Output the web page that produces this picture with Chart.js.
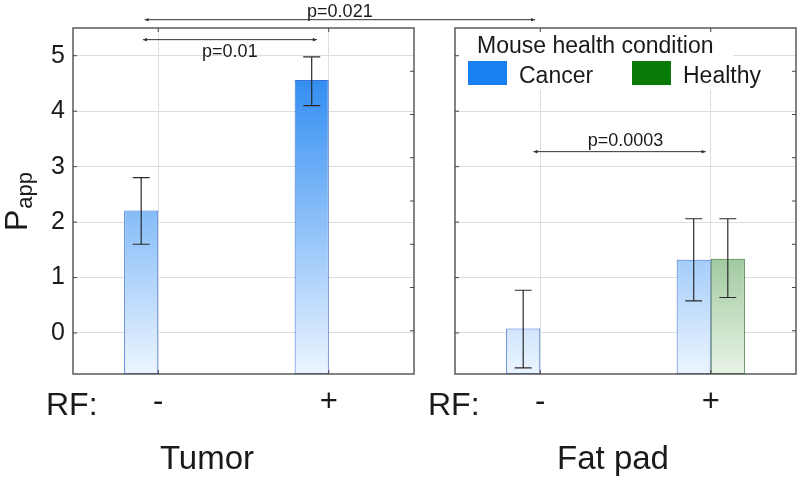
<!DOCTYPE html>
<html>
<head>
<meta charset="utf-8">
<script src="https://cdn.jsdelivr.net/npm/chart.js@4.4.1/dist/chart.umd.min.js"></script>
<style>
  body { margin: 0; background: #fff; }
  .wrap { position: relative; width: 800px; height: 482px; }
  .wrap canvas { position: absolute; left: 0; top: 0; }
</style>
</head>
<body>
<div class="wrap">
  <canvas id="tumorChart" width="800" height="482"></canvas>
  <canvas id="fatChart" width="800" height="482"></canvas>
</div>
<script>
// Data
const categories = ['-', '+'];            // RF off / on
const panelTitles = ['Tumor', 'Fat pad'];
const seriesNames = ['Cancer', 'Healthy'];
const legendTitle = 'Mouse health condition';

const tumorCancer = [2.21, 4.56];
const tumorCancerLow = [1.60, 4.10];
const tumorCancerHigh = [2.80, 4.98];

const fatCancer = [0.08, 1.32];
const fatCancerLow = [-0.63, 0.58];
const fatCancerHigh = [0.77, 2.06];

const fatHealthy = [null, 1.34];
const fatHealthyLow = [null, 0.64];
const fatHealthyHigh = [null, 2.06];

// axis range
const yMin = -0.74;
const yMax = 5.5;

const FONT = '"Liberation Sans", Arial, Helvetica, sans-serif';
const TEXT = '#1a1a1a';
const GRID = '#dedede';
const FRAME = '#5a5a5a';

// vertical gradient over the whole plot area
function areaGradient(chart, top, bottom) {
  const area = chart.chartArea;
  if (!area) return top;
  const g = chart.ctx.createLinearGradient(0, area.top, 0, area.bottom);
  g.addColorStop(0, top);
  g.addColorStop(1, bottom);
  return g;
}

const cancerFill = ctx => areaGradient(ctx.chart, 'rgb(18,124,240)', 'rgb(236,245,255)');
const healthyFill = ctx => areaGradient(ctx.chart, 'rgb(20,120,20)', 'rgb(232,243,230)');

function scalesFor(showYLabels, yWidth) {
  return {
    x: {
      grid: { color: GRID, offset: false, drawTicks: false },
      border: { display: false },
      ticks: { font: { family: FONT, size: 31 }, color: TEXT, padding: 10 },
      afterFit: s => { s.height = 108; }
    },
    y: {
      min: yMin, max: yMax,
      grid: { color: GRID, drawTicks: false },
      border: { display: false },
      ticks: { display: showYLabels, stepSize: 1, includeBounds: false,
               font: { family: FONT, size: 25 }, color: TEXT, padding: 8 },
      afterFit: s => { s.width = yWidth; }
    },
    // second scale only used for the small ticks on the right edge
    y2: {
      position: 'right', min: 0, max: 8,
      grid: { display: false }, border: { display: false },
      ticks: { display: false, stepSize: 1 },
      afterFit: s => { s.width = 0; }
    }
  };
}

// error bars from the low/high arrays
const errorBars = {
  id: 'errorBars',
  afterDatasetsDraw(chart) {
    const { ctx } = chart;
    const y = chart.scales.y;
    ctx.save();
    ctx.strokeStyle = '#2b2b2b';
    ctx.lineWidth = 1.2;
    chart.data.datasets.forEach((ds, di) => {
      chart.getDatasetMeta(di).data.forEach((bar, i) => {
        if (ds.errLow[i] == null) return;
        const top = y.getPixelForValue(ds.errHigh[i]);
        const bot = y.getPixelForValue(ds.errLow[i]);
        ctx.beginPath();
        ctx.moveTo(bar.x, top); ctx.lineTo(bar.x, bot);
        ctx.moveTo(bar.x - 8.5, top); ctx.lineTo(bar.x + 8.5, top);
        ctx.moveTo(bar.x - 8.5, bot); ctx.lineTo(bar.x + 8.5, bot);
        ctx.stroke();
      });
    });
    ctx.restore();
  }
};

// box around the plot + inward ticks
const frame = {
  id: 'frame',
  afterDraw(chart) {
    const { ctx, chartArea: a } = chart;
    const { x, y, y2 } = chart.scales;
    ctx.save();
    ctx.strokeStyle = FRAME;
    ctx.lineWidth = 1.5;
    ctx.strokeRect(a.left, a.top, a.right - a.left, a.bottom - a.top);
    ctx.lineWidth = 1;
    ctx.strokeStyle = '#444';
    ctx.beginPath();
    x.ticks.forEach((t, i) => {
      const px = x.getPixelForTick(i);
      ctx.moveTo(px, a.bottom); ctx.lineTo(px, a.bottom - 4);
      ctx.moveTo(px, a.top); ctx.lineTo(px, a.top + 4);
    });
    y.ticks.forEach(t => {
      const py = y.getPixelForValue(t.value);
      ctx.moveTo(a.left, py); ctx.lineTo(a.left + 4, py);
    });
    y2.ticks.forEach(t => {
      if (t.value <= 0 || t.value >= 8) return;
      const py = y2.getPixelForValue(t.value);
      ctx.moveTo(a.right, py); ctx.lineTo(a.right - 4, py);
    });
    ctx.stroke();
    ctx.restore();
  }
};

function arrowLine(ctx, x1, x2, yy) {
  ctx.beginPath();
  ctx.moveTo(x1, yy); ctx.lineTo(x2, yy);
  ctx.stroke();
  ctx.beginPath();
  ctx.moveTo(x1, yy); ctx.lineTo(x1 + 4, yy - 1.8); ctx.lineTo(x1 + 4, yy + 1.8); ctx.closePath();
  ctx.moveTo(x2, yy); ctx.lineTo(x2 - 4, yy - 1.8); ctx.lineTo(x2 - 4, yy + 1.8); ctx.closePath();
  ctx.fill();
}

// significance brackets inside one panel (x in category units)
function brackets(list) {
  return {
    id: 'brackets',
    afterDraw(chart) {
      const { ctx } = chart;
      const { x, y } = chart.scales;
      ctx.save();
      ctx.strokeStyle = '#333';
      ctx.fillStyle = '#333';
      ctx.lineWidth = 1;
      list.forEach(b => {
        const x1 = x.getPixelForValue(b.from);
        const x2 = x.getPixelForValue(b.to);
        arrowLine(ctx, x1, x2, y.getPixelForValue(b.y));
        ctx.fillStyle = TEXT;
        ctx.font = '18px ' + FONT;
        ctx.textAlign = 'center';
        ctx.textBaseline = 'middle';
        ctx.fillText(b.label, (x1 + x2) / 2 + (b.dx || 0), y.getPixelForValue(b.labelY));
        ctx.fillStyle = '#333';
      });
      ctx.restore();
    }
  };
}

// "RF:" row label and panel title under each plot
function panelText(title, titleX) {
  return {
    id: 'panelText',
    afterDraw(chart) {
      const { ctx, chartArea: a } = chart;
      ctx.save();
      ctx.fillStyle = TEXT;
      ctx.textBaseline = 'alphabetic';
      ctx.textAlign = 'left';
      ctx.font = '32px ' + FONT;
      ctx.fillText('RF:', a.left - 27, 415);
      ctx.textAlign = 'center';
      ctx.font = '33px ' + FONT;
      ctx.fillText(title, titleX, 469);
      ctx.restore();
    }
  };
}

// rotated P_app axis title
const yTitle = {
  id: 'yTitle',
  afterDraw(chart) {
    const { ctx } = chart;
    ctx.save();
    ctx.translate(27, 231);
    ctx.rotate(-Math.PI / 2);
    ctx.fillStyle = TEXT;
    ctx.textAlign = 'left';
    ctx.textBaseline = 'alphabetic';
    ctx.font = '32px ' + FONT;
    ctx.fillText('P', 0, 0);
    const w = ctx.measureText('P').width;
    ctx.font = '22px ' + FONT;
    ctx.fillText('app', w + 1, 5);
    ctx.restore();
  }
};

// legend drawn inside the fat pad panel
const boxLegend = {
  id: 'boxLegend',
  afterDatasetsDraw(chart) {
    const { ctx, chartArea: a } = chart;
    ctx.save();
    ctx.fillStyle = '#fff';
    ctx.fillRect(a.left + 1, a.top + 1, 277, 61);
    ctx.fillStyle = TEXT;
    ctx.font = '23px ' + FONT;
    ctx.textBaseline = 'alphabetic';
    ctx.textAlign = 'left';
    ctx.fillText(legendTitle, a.left + 22, 53);
    const boxX = [a.left + 13, a.left + 177];
    chart.data.datasets.forEach((ds, i) => {
      ctx.fillStyle = ds.legendColor;
      ctx.fillRect(boxX[i], 61, 39, 24);
      ctx.fillStyle = TEXT;
      ctx.fillText(ds.label, boxX[i] + 51, 83);
    });
    ctx.restore();
  }
};

const baseOptions = (padding, showY, yWidth) => ({
  responsive: false,
  animation: false,
  layout: { padding },
  plugins: { legend: { display: false }, tooltip: { enabled: false } },
  scales: scalesFor(showY, yWidth)
});

function barSet(label, data, low, high, fill, border, legendColor) {
  return {
    label, data,
    errLow: low, errHigh: high,
    base: yMin,
    backgroundColor: fill,
    borderColor: border,
    borderWidth: 1,
    borderSkipped: false,
    categoryPercentage: 0.4,
    barPercentage: 1.0,
    legendColor
  };
}

const tumorChart = new Chart(document.getElementById('tumorChart'), {
  type: 'bar',
  data: {
    labels: categories,
    datasets: [
      barSet(seriesNames[0], tumorCancer, tumorCancerLow, tumorCancerHigh, cancerFill, 'rgb(62,112,210)', 'rgb(24,128,242)'),
      barSet(seriesNames[1], [null, null], [null, null], [null, null], healthyFill, 'rgb(60,110,60)', 'rgb(8,122,8)')
    ]
  },
  options: baseOptions({ left: 0, right: 386, top: 28, bottom: 0 }, true, 73),
  plugins: [errorBars, frame, yTitle, panelText(panelTitles[0], 207),
    brackets([{ from: -0.09, to: 0.93, y: 5.29, label: 'p=0.01', labelY: 5.07 }])]
});

// bracket that spans both panels
const crossBracket = {
  id: 'crossBracket',
  afterDraw(chart) {
    const { ctx } = chart;
    const x1 = tumorChart.scales.x.getPixelForValue(-0.08);
    const x2 = chart.scales.x.getPixelForValue(-0.03);
    const y = chart.scales.y;
    ctx.save();
    ctx.strokeStyle = '#333';
    ctx.fillStyle = '#333';
    ctx.lineWidth = 1;
    arrowLine(ctx, x1, x2, y.getPixelForValue(5.65));
    ctx.fillStyle = TEXT;
    ctx.font = '18px ' + FONT;
    ctx.textAlign = 'center';
    ctx.textBaseline = 'middle';
    ctx.fillText('p=0.021', (x1 + x2) / 2, y.getPixelForValue(5.79));
    ctx.restore();
  }
};

const fatChart = new Chart(document.getElementById('fatChart'), {
  type: 'bar',
  data: {
    labels: categories,
    datasets: [
      barSet(seriesNames[0], fatCancer, fatCancerLow, fatCancerHigh, cancerFill, 'rgb(62,112,210)', 'rgb(24,128,242)'),
      barSet(seriesNames[1], fatHealthy, fatHealthyLow, fatHealthyHigh, healthyFill, 'rgb(60,110,60)', 'rgb(8,122,8)')
    ]
  },
  options: baseOptions({ left: 455, right: 4, top: 28, bottom: 0 }, false, 0),
  plugins: [boxLegend, errorBars, frame, panelText(panelTitles[1], 613), crossBracket,
    brackets([{ from: -0.04, to: 0.97, y: 3.27, label: 'p=0.0003', labelY: 3.46, dx: 6 }])]
});
</script>
</body>
</html>
